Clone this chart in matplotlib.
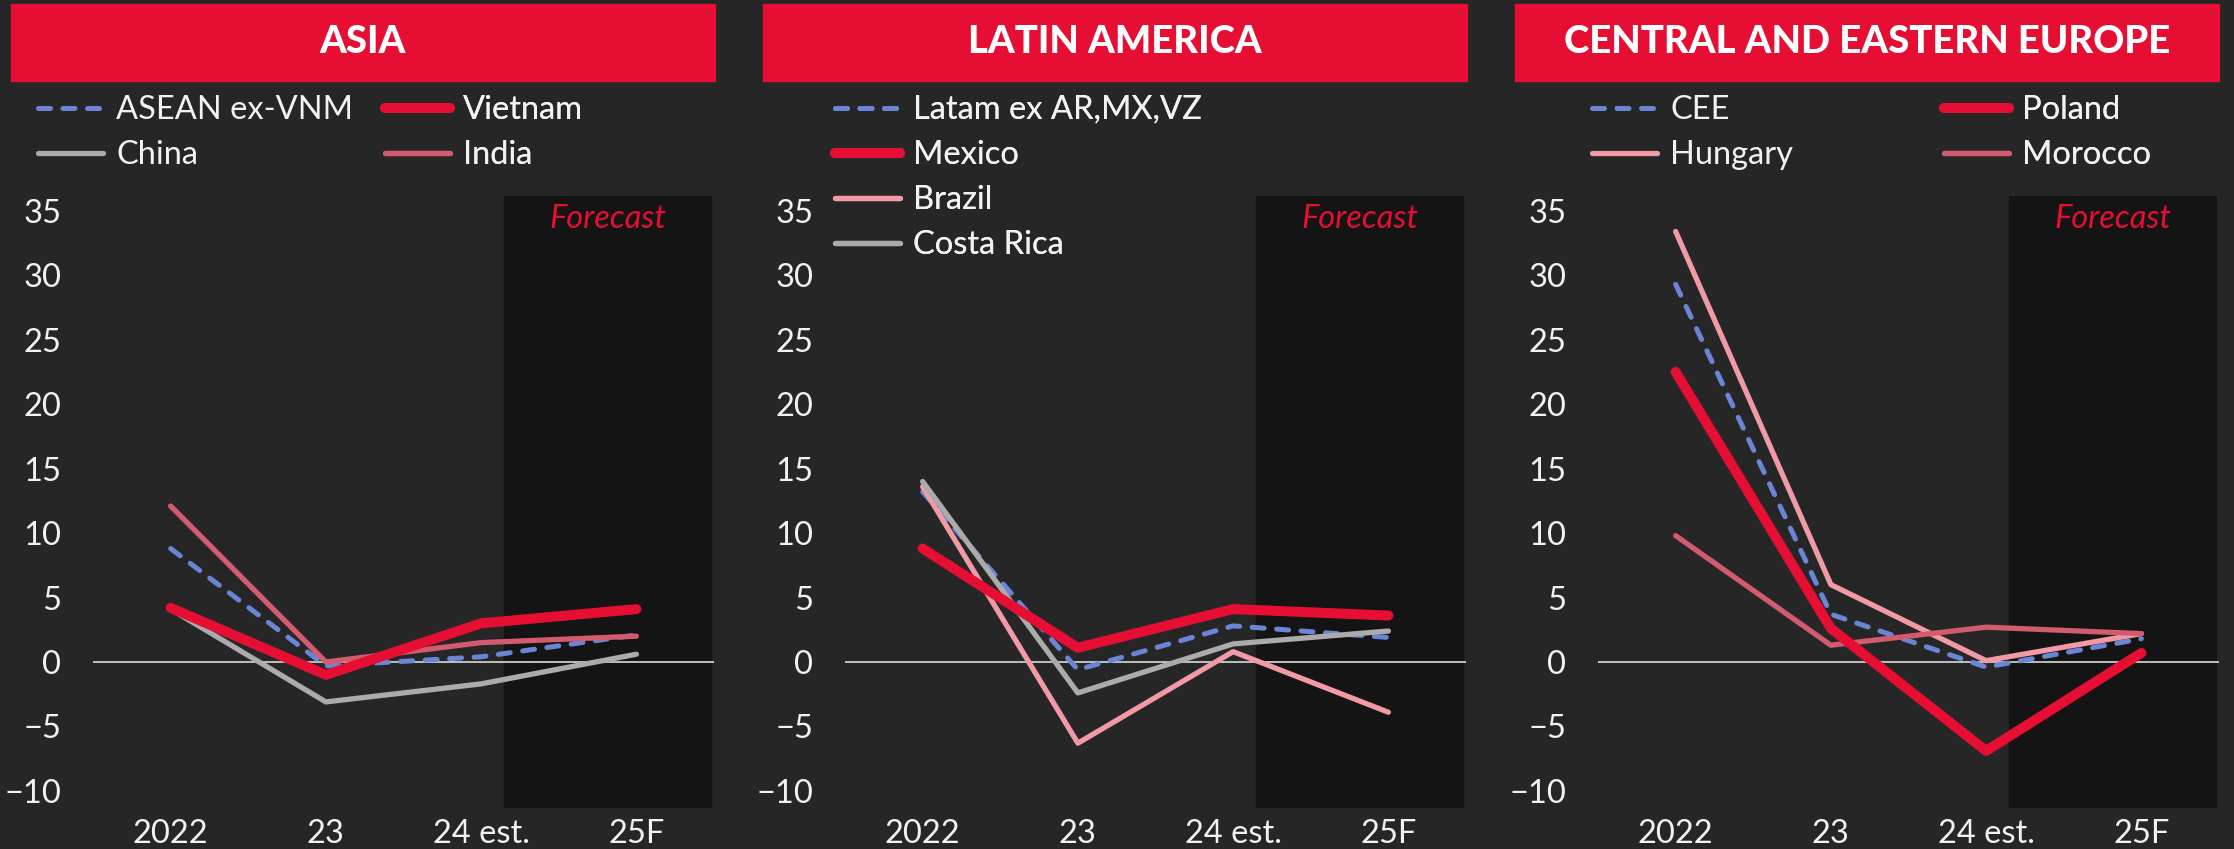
import matplotlib.pyplot as plt
from matplotlib.patches import Rectangle

plt.rcParams['font.family'] = ['Lato', 'DejaVu Sans']

BG = '#262626'
SHADE = '#141414'
RED = '#E60E33'
BLUE = '#6A85D6'
GREY = '#ABABAB'
ROSE = '#D35B6E'
PINK = '#F19AA5'
TXT = '#F2F2F2'

years = ['2022', '23', '24 est.', '25F']

# Asia
asean = [8.8, -0.3, 0.4, 2.1]
vietnam = [4.2, -1.0, 3.0, 4.1]
china = [4.1, -3.1, -1.7, 0.6]
india = [12.1, 0.0, 1.5, 2.0]

# Latin America
latam = [13.2, -0.6, 2.8, 1.9]
mexico = [8.8, 1.1, 4.1, 3.6]
brazil = [13.6, -6.3, 0.8, -3.9]
costa_rica = [14.0, -2.4, 1.4, 2.4]

# Central and Eastern Europe
cee = [29.3, 3.7, -0.4, 1.8]
poland = [22.5, 2.6, -6.9, 0.7]
hungary = [33.4, 6.0, 0.1, 2.2]
morocco = [9.8, 1.3, 2.7, 2.2]

styles = {
    'avg': dict(color=BLUE, lw=3.6, dashes=(2.4, 2.5), dash_capstyle='round'),
    'main': dict(color=RED, lw=7.2, solid_capstyle='round'),
    'grey': dict(color=GREY, lw=3.8, solid_capstyle='round'),
    'rose': dict(color=ROSE, lw=3.8, solid_capstyle='round'),
    'pink': dict(color=PINK, lw=3.8, solid_capstyle='round'),
}

panels = [
    dict(title='ASIA', left=93, head=(11, 715),
         series=[('ASEAN ex-VNM', asean, 'avg'), ('Vietnam', vietnam, 'main'),
                 ('China', china, 'grey'), ('India', india, 'rose')],
         cols=[([0, 2], 38), ([1, 3], 385)]),
    dict(title='LATIN AMERICA', left=845, head=(763, 1467),
         series=[('Latam ex AR,MX,VZ', latam, 'avg'), ('Mexico', mexico, 'main'),
                 ('Brazil', brazil, 'pink'), ('Costa Rica', costa_rica, 'grey')],
         cols=[([0, 1, 2, 3], 835)]),
    dict(title='CENTRAL AND EASTERN EUROPE', left=1598, head=(1515, 2219),
         series=[('CEE', cee, 'avg'), ('Poland', poland, 'main'),
                 ('Hungary', hungary, 'pink'), ('Morocco', morocco, 'rose')],
         cols=[([0, 2], 1592), ([1, 3], 1944)]),
]

W, H = 2234, 849
fig = plt.figure(figsize=(W / 100, H / 100), dpi=100, facecolor=BG)

for p in panels:
    ax = fig.add_axes([p['left'] / W, 1 - 808 / H, 621 / W, 612 / H])
    ax.set_facecolor(BG)
    x = range(len(years))
    ax.axvspan(2.15, 3.48, color=SHADE, zorder=0)
    ax.axhline(0, color='#D9D9D9', lw=1.2, zorder=1)

    handles = []
    for name, vals, st in p['series']:
        line, = ax.plot(x, vals, label=name, zorder=3 if st == 'main' else 2,
                        solid_joinstyle='round', **styles[st])
        handles.append(line)

    ax.set_xlim(-0.5, 3.5)
    ax.set_ylim(-11.33, 36.15)
    ax.set_yticks(range(-10, 36, 5))
    ax.set_xticks(list(x))
    ax.set_xticklabels(years)
    ax.tick_params(axis='y', length=0, pad=23, labelsize=23.5, labelcolor=TXT)
    ax.tick_params(axis='x', length=0, pad=8, labelsize=23.5, labelcolor=TXT)
    for s in ax.spines.values():
        s.set_visible(False)

    ax.text(0.829, 0.962, 'Forecast', transform=ax.transAxes, ha='center',
            va='center', color=RED, fontsize=23.5, style='italic')

    # title bar
    x0, x1 = p['head']
    fig.patches.append(Rectangle((x0 / W, 1 - 81 / H), (x1 - x0) / W, 77 / H,
                                 transform=fig.transFigure, color=RED, zorder=0))
    fig.text((x0 + x1) / 2 / W, 1 - 42 / H, p['title'], ha='center', va='center',
             color='white', fontsize=27.5, fontweight=900)

    # legend, one block per column
    for idx, xpos in p['cols']:
        leg = ax.legend([handles[i] for i in idx], [p['series'][i][0] for i in idx],
                        loc='upper left', bbox_to_anchor=(xpos / W, 1 - 95 / H),
                        bbox_transform=fig.transFigure, frameon=False, fontsize=23.5,
                        labelcolor=TXT, handlelength=2.0, handletextpad=0.4,
                        labelspacing=0.46, borderpad=0, borderaxespad=0)
        ax.add_artist(leg)

fig.savefig('out.png', dpi=100, facecolor=BG)
